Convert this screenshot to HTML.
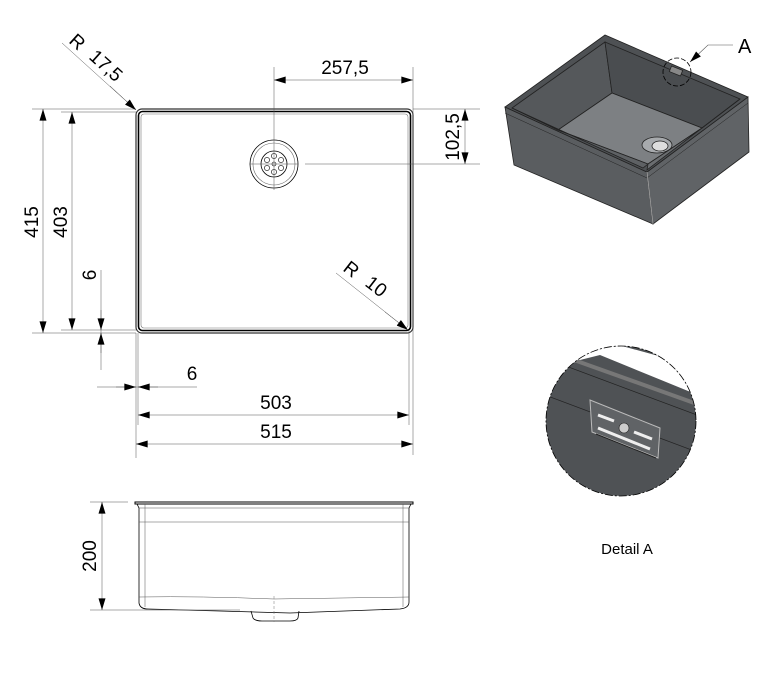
<!DOCTYPE html>
<html><head><style>
html,body{margin:0;padding:0;background:#fff;}
svg{display:block;font-family:"Liberation Sans",Arial,sans-serif;}
</style></head><body>
<svg width="770" height="674" viewBox="0 0 770 674" xmlns="http://www.w3.org/2000/svg">
<defs>
<marker id="a" viewBox="0 0 10 6" refX="10" refY="3" markerWidth="19" markerHeight="7" markerUnits="userSpaceOnUse" orient="auto-start-reverse"><path d="M0,0L10,3L0,6z" fill="#000"/></marker>
<clipPath id="dc"><circle cx="621" cy="421" r="75"/></clipPath>
</defs>
<g stroke="#000" fill="none">
<rect x="136" y="109" width="277" height="224" rx="6" stroke-width="1.2" stroke="#333"/>
<rect x="138.5" y="111.5" width="272" height="219" rx="4" stroke-width="1.6"/>
<rect x="141" y="114" width="267" height="214" rx="3" stroke-width="0.6" stroke="#777"/>
<circle cx="274" cy="164" r="24" stroke-width="0.8"/>
<circle cx="274" cy="164" r="21" stroke-width="0.6" stroke="#666"/>
<circle cx="274" cy="164" r="13" stroke-width="0.8"/>
<g stroke-width="0.6"><circle cx="274" cy="164" r="2"/><circle cx="274" cy="156" r="2.6"/><circle cx="274" cy="172" r="2.6"/><circle cx="267" cy="160" r="2.6"/><circle cx="281" cy="160" r="2.6"/><circle cx="267" cy="168" r="2.6"/><circle cx="281" cy="168" r="2.6"/></g>
<g stroke-width="0.5" stroke="#555">
<line x1="274" y1="67" x2="274" y2="190"/>
<line x1="250" y1="164" x2="298" y2="164"/>
<line x1="305" y1="164" x2="480" y2="164"/>
<line x1="413" y1="67" x2="413" y2="455"/>
<line x1="409" y1="330" x2="409" y2="425"/>
<line x1="136" y1="333" x2="136" y2="458"/>
<line x1="138" y1="333" x2="138" y2="425"/>
<line x1="413" y1="109" x2="480" y2="109"/>
<line x1="32" y1="109" x2="136" y2="109"/>
<line x1="61" y1="112" x2="136" y2="112"/>
<line x1="32" y1="333" x2="136" y2="333"/>
<line x1="61" y1="330" x2="136" y2="330"/>
<line x1="101" y1="270" x2="101" y2="370"/>
<line x1="97" y1="387" x2="197" y2="387"/>
<line x1="62" y1="43" x2="136" y2="110"/>
<line x1="336" y1="273" x2="408" y2="330"/>
</g>
<g stroke-width="0.5" stroke="#555">
<line x1="274" y1="80" x2="413" y2="80" marker-start="url(#a)" marker-end="url(#a)"/>
<line x1="465" y1="109" x2="465" y2="164" marker-start="url(#a)" marker-end="url(#a)"/>
<line x1="43" y1="109" x2="43" y2="333" marker-start="url(#a)" marker-end="url(#a)"/>
<line x1="72" y1="112" x2="72" y2="330" marker-start="url(#a)" marker-end="url(#a)"/>
<line x1="138" y1="415" x2="409" y2="415" marker-start="url(#a)" marker-end="url(#a)"/>
<line x1="136" y1="444" x2="413" y2="444" marker-start="url(#a)" marker-end="url(#a)"/>
<line x1="101" y1="310" x2="101" y2="330" marker-end="url(#a)"/>
<line x1="101" y1="353" x2="101" y2="333" marker-end="url(#a)"/>
<line x1="116" y1="387" x2="136" y2="387" marker-end="url(#a)"/>
<line x1="158" y1="387" x2="138" y2="387" marker-end="url(#a)"/>
<line x1="110" y1="86" x2="136" y2="110" marker-end="url(#a)"/>
<line x1="385" y1="312" x2="408" y2="330" marker-end="url(#a)"/>
</g>
<rect x="135" y="502" width="278" height="2" stroke-width="1"/>
<path d="M137,504 L139,508 L139,603 Q140,609 148,609 L290,613 L400,609 Q409,608 409,602 L409,508 L411,504" stroke-width="0.8"/>
<line x1="139" y1="508" x2="409" y2="508" stroke-width="0.5" stroke="#555"/>
<line x1="139" y1="522" x2="409" y2="522" stroke-width="0.5" stroke="#555"/>
<line x1="145" y1="504" x2="145" y2="607" stroke-width="0.5" stroke="#555"/>
<line x1="403" y1="504" x2="403" y2="607" stroke-width="0.5" stroke="#555"/>
<path d="M139,597 Q200,596 274,599 L409,597" stroke-width="0.5" stroke="#555"/>
<path d="M251,611 L253,618 Q255,621 262,621 L290,621 Q297,621 298,618 L299,611" stroke-width="0.8"/>
<line x1="274" y1="596" x2="274" y2="622" stroke-width="0.5" stroke="#777" stroke-dasharray="3,2"/>
<line x1="90" y1="502" x2="128" y2="502" stroke-width="0.5" stroke="#555"/>
<line x1="90" y1="610" x2="240" y2="610" stroke-width="0.5" stroke="#555"/>
<line x1="102" y1="502" x2="102" y2="610" stroke-width="0.5" stroke="#555" marker-start="url(#a)" marker-end="url(#a)"/>
</g>
<g font-size="19" fill="#000">
<text x="345" y="74" text-anchor="middle">257,5</text>
<text x="276" y="409" text-anchor="middle">503</text>
<text x="276" y="438" text-anchor="middle">515</text>
<text x="192" y="380" text-anchor="middle">6</text>
<text transform="translate(38,222) rotate(-90)" text-anchor="middle">415</text>
<text transform="translate(67,222) rotate(-90)" text-anchor="middle">403</text>
<text transform="translate(96,275) rotate(-90)" text-anchor="middle">6</text>
<text transform="translate(459,137) rotate(-90)" text-anchor="middle">102,5</text>
<text transform="translate(96,556) rotate(-90)" text-anchor="middle">200</text>
<text transform="translate(68,42) rotate(42)">R</text>
<text transform="translate(88,58) rotate(42)">17,5</text>
<text transform="translate(342,270) rotate(38)">R</text>
<text transform="translate(364,285) rotate(38)">10</text>
<text x="738" y="53" font-size="20">A</text>
</g>
<text x="627" y="554" font-size="15" text-anchor="middle">Detail A</text>
<g stroke="#222" stroke-width="0.8">
<polygon points="505,107 647,172 653,224 514,165" fill="#5a5d60"/>
<polygon points="647,172 748,97 749,152 653,224" fill="#606366"/>
<polygon points="505,107 605,35 748,97 647,172" fill="#4e5154"/>
<polygon points="512,108 605,42 612,93 558,130" fill="#55585b"/>
<polygon points="605,42 740,99 702,128 612,93" fill="#4a4d50"/>
<polygon points="558,130 612,93 702,128 648,164" fill="#7d8083"/>
<polygon points="512,108 558,130 648,164 643,168" fill="#5e6164"/>
<polygon points="702,128 740,99 647,170 648,164" fill="#6a6d70"/>
<line x1="505" y1="113" x2="647" y2="178" stroke-width="0.5"/>
<line x1="647" y1="178" x2="748" y2="103" stroke-width="0.5"/>
<line x1="647" y1="172" x2="653" y2="224" stroke="#aaa"/>
<ellipse cx="657" cy="145" rx="15" ry="8" fill="#a7aaad"/>
<ellipse cx="660" cy="146" rx="8" ry="5" fill="#ddd"/>
<rect x="670" y="68" width="12" height="6" fill="#888" transform="rotate(22 676 71)"/>
</g>
<circle cx="677" cy="72" r="14" fill="none" stroke="#000" stroke-width="0.8" stroke-dasharray="5,2"/>
<polyline points="733,45 708,45 690,62" fill="none" stroke="#555" stroke-width="0.6" marker-end="url(#a)"/>
<g clip-path="url(#dc)">
<rect x="540" y="340" width="170" height="160" fill="#4f5255"/>
<polygon points="540,370 600,355 710,400 710,370 600,340 540,340" fill="#fff"/>
<path d="M560,355 L700,405" stroke="#777" stroke-width="4" fill="none"/>
<line x1="555" y1="362" x2="705" y2="418" stroke="#222" stroke-width="0.7"/>
<line x1="545" y1="395" x2="705" y2="455" stroke="#222" stroke-width="0.7"/>
<polygon points="590,400 660,428 658,458 592,432" fill="#606366" stroke="#bbb" stroke-width="1"/>
<line x1="598" y1="415" x2="614" y2="421" stroke="#eee" stroke-width="3"/>
<line x1="634" y1="432" x2="652" y2="439" stroke="#eee" stroke-width="3"/>
<line x1="598" y1="428" x2="650" y2="449" stroke="#eee" stroke-width="3"/>
<line x1="596" y1="434" x2="656" y2="458" stroke="#222" stroke-width="1"/>
<circle cx="624" cy="428" r="5" fill="#ccc" stroke="#222" stroke-width="0.6"/>
</g>
<circle cx="621" cy="421" r="75" fill="none" stroke="#000" stroke-width="0.8" stroke-dasharray="8,2,2,2"/>
</svg>
</body></html>
